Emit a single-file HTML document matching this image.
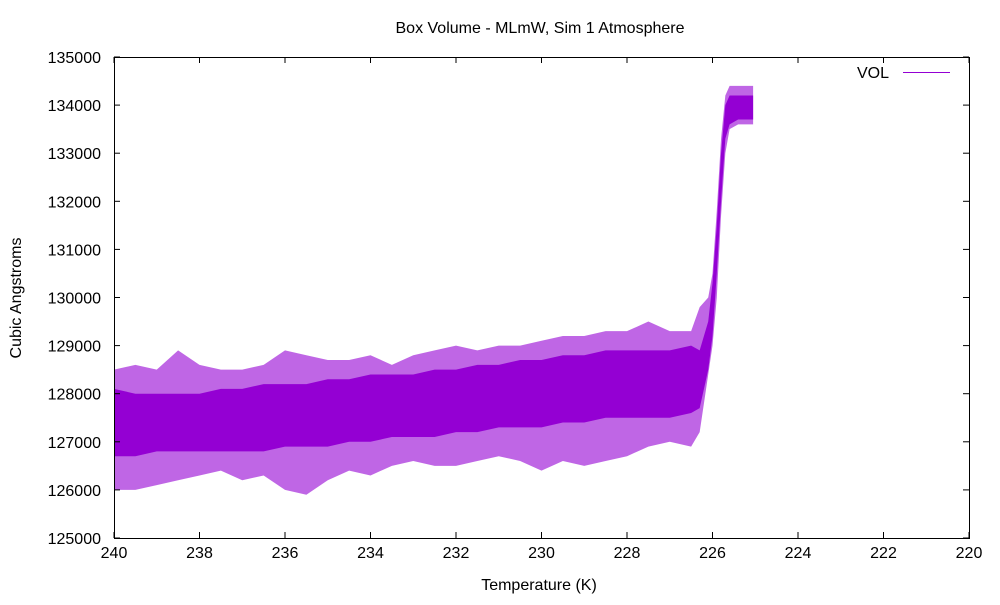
<!DOCTYPE html>
<html><head><meta charset="utf-8">
<style>
body{margin:0;background:#fff;}
svg text{font-family:"Liberation Sans",sans-serif;font-size:16px;fill:#000;}
</style></head>
<body>
<svg id="chart" width="1000" height="600">
<rect width="1000" height="600" fill="#fff"/>
<text x="540" y="33" text-anchor="middle">Box Volume - MLmW, Sim 1 Atmosphere</text>
<text x="539" y="590" text-anchor="middle">Temperature (K)</text>
<text transform="translate(21,298) rotate(-90)" text-anchor="middle">Cubic Angstroms</text>
<g id="plot"></g>
<g id="axes"></g>
<g>
<text x="889" y="78" text-anchor="end">VOL</text>
<line x1="903" y1="72.5" x2="950" y2="72.5" stroke="#9400d3" stroke-width="1"/>
</g>
</svg>
<script>
const temps=[240,239.5,239,238.5,238,237.5,237,236.5,236,235.5,235,234.5,234,233.5,233,232.5,232,231.5,231,230.5,230,229.5,229,228.5,228,227.5,227,226.5,226.3,226.1,226.0,225.9,225.8,225.7,225.6,225.4,225.2,225.05];
const coreLow=[126700,126700,126800,126800,126800,126800,126800,126800,126900,126900,126900,127000,127000,127100,127100,127100,127200,127200,127300,127300,127300,127400,127400,127500,127500,127500,127500,127600,127700,128500,129200,130500,132000,133300,133600,133700,133700,133700];
const coreHigh=[128100,128000,128000,128000,128000,128100,128100,128200,128200,128200,128300,128300,128400,128400,128400,128500,128500,128600,128600,128700,128700,128800,128800,128900,128900,128900,128900,129000,128900,129500,130300,131500,133000,134000,134200,134200,134200,134200];
const spikeLow=[126000,126000,126100,126200,126300,126400,126200,126300,126000,125900,126200,126400,126300,126500,126600,126500,126500,126600,126700,126600,126400,126600,126500,126600,126700,126900,127000,126900,127200,128400,129000,130000,131700,133000,133500,133600,133600,133600];
const spikeHigh=[128500,128600,128500,128900,128600,128500,128500,128600,128900,128800,128700,128700,128800,128600,128800,128900,129000,128900,129000,129000,129100,129200,129200,129300,129300,129500,129300,129300,129800,130000,130500,131800,133300,134200,134400,134400,134400,134400];
const xTicks=[240,238,236,234,232,230,228,226,224,222,220];
const yTicks=[125000,126000,127000,128000,129000,130000,131000,132000,133000,134000,135000];

const L=114,R=969,T=57,B=538;
const xs=t=>L+(240-t)/(240-220)*(R-L);
const ys=v=>B-(v-125000)/(135000-125000)*(B-T);
const NS="http://www.w3.org/2000/svg";
const plot=document.getElementById('plot'),axes=document.getElementById('axes');
function band(lo,hi,op,name){
  let pts=temps.map((t,i)=>xs(t)+','+ys(hi[i]));
  for(let i=temps.length-1;i>=0;i--)pts.push(xs(temps[i])+','+ys(lo[i]));
  const p=document.createElementNS(NS,'polygon');
  p.setAttribute('points',pts.join(' '));
  p.setAttribute('fill','#9400d3');p.setAttribute('fill-opacity',op);
  
  
  plot.appendChild(p);
}
band(spikeLow,spikeHigh,0.6,'vol-spike-band');
band(coreLow,coreHigh,1,'vol-core-band');
const fr=document.createElementNS(NS,'rect');
fr.setAttribute('x',L+0.5);fr.setAttribute('y',T+0.5);fr.setAttribute('width',R-L);fr.setAttribute('height',B-T);
fr.setAttribute('fill','none');fr.setAttribute('stroke','#000');


axes.appendChild(fr);
function ln(x1,y1,x2,y2){const l=document.createElementNS(NS,'line');l.setAttribute('x1',x1);l.setAttribute('y1',y1);l.setAttribute('x2',x2);l.setAttribute('y2',y2);l.setAttribute('stroke','#000');


axes.appendChild(l);}
xTicks.forEach(t=>{const x=xs(t);ln(x,B,x,B-6);ln(x,T,x,T+6);
 const tx=document.createElementNS(NS,'text');tx.setAttribute('x',x);tx.setAttribute('y',B+20);tx.setAttribute('text-anchor','middle');tx.textContent=t;
 
 
 axes.appendChild(tx);});
yTicks.forEach(v=>{const y=ys(v);ln(L,y,L+6,y);ln(R,y,R-6,y);
 const tx=document.createElementNS(NS,'text');tx.setAttribute('x',101);tx.setAttribute('y',y+6);tx.setAttribute('text-anchor','end');tx.textContent=v;
 
 
 axes.appendChild(tx);});
</script>
</body></html>
